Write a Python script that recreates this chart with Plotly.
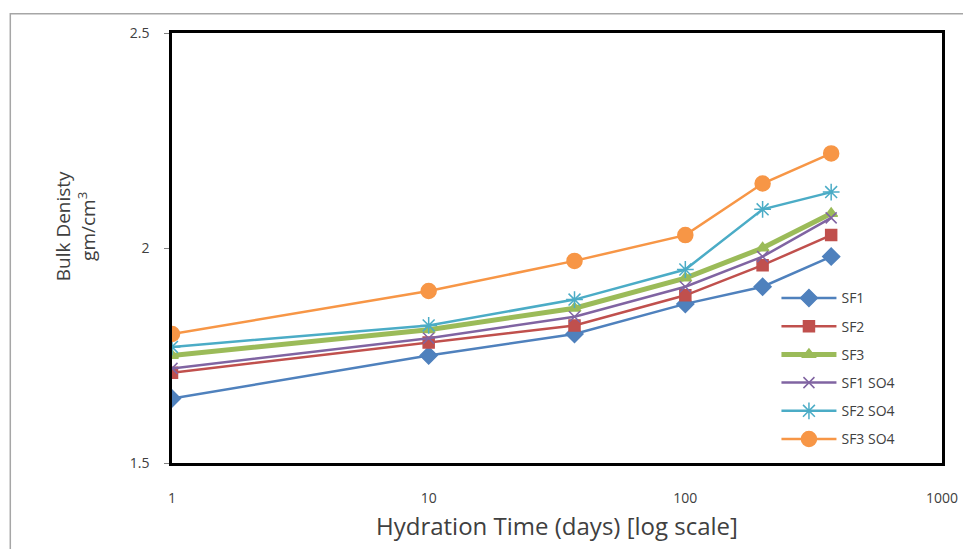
import plotly.graph_objects as go

days = [1, 10, 37, 100, 200, 370]
sf1 = [1.65, 1.75, 1.80, 1.87, 1.91, 1.98]
sf2 = [1.71, 1.78, 1.82, 1.89, 1.96, 2.03]
sf3 = [1.75, 1.81, 1.86, 1.93, 2.00, 2.08]
sf1_so4 = [1.72, 1.79, 1.84, 1.91, 1.98, 2.07]
sf2_so4 = [1.77, 1.82, 1.88, 1.95, 2.09, 2.13]
sf3_so4 = [1.80, 1.90, 1.97, 2.03, 2.15, 2.22]

series = [
    ("SF1", sf1, "#4F81BD", "diamond", 13, 2.5),
    ("SF2", sf2, "#C0504D", "square", 11, 2.5),
    ("SF3", sf3, "#9BBB59", "triangle-up", 11, 5),
    ("SF1 SO4", sf1_so4, "#8064A2", "x-thin-open", 11, 2.5),
    ("SF2 SO4", sf2_so4, "#4BACC6", "asterisk-open", 14, 2.5),
    ("SF3 SO4", sf3_so4, "#F79646", "circle", 15, 2.5),
]

fig = go.Figure()
for name, vals, color, sym, size, lw in series:
    fig.add_trace(go.Scatter(
        x=days, y=vals, name=name, mode="lines+markers", legendgroup=name,
        line=dict(color=color, width=lw),
        marker=dict(symbol=sym, size=size, color=color,
                    line=dict(color=color, width=1.5)),
    ))

font_family = "Open Sans, Lato, sans-serif"

fig.update_layout(
    width=963, height=541,
    margin=dict(l=164, r=29, t=25, b=86),
    paper_bgcolor="white", plot_bgcolor="white",
    font=dict(family=font_family, color="#404040"),
    showlegend=True,
    legend=dict(x=0.785, y=0.42, xanchor="left", yanchor="top",
                font=dict(size=14, color="#404040"),
                bgcolor="rgba(0,0,0,0)", tracegroupgap=7,
                itemwidth=55),
    xaxis=dict(type="log", range=[0, 3],
               tickvals=[1, 10, 100, 1000], ticktext=["1", "10", "100", "1000"],
               showgrid=False, zeroline=False,
               showline=True, linecolor="black", linewidth=2.5, mirror=True,
               ticks="", tickfont=dict(size=14, color="#404040"),
               ticklabelstandoff=20),
    yaxis=dict(range=[1.5, 2.5], tickvals=[1.5, 2, 2.5],
               ticktext=["1.5", "2", "2.5"],
               showgrid=False, zeroline=False,
               showline=True, linecolor="black", linewidth=2.5, mirror=True,
               ticks="outside", ticklen=5, tickcolor="#808080",
               tickfont=dict(size=14, color="#404040"),
               ticklabelstandoff=12),
    annotations=[
        dict(text="Hydration Time (days) [log scale]", xref="paper", yref="paper",
             x=0.5, y=-0.145, xanchor="center", yanchor="middle",
             showarrow=False, font=dict(size=24, color="#404040")),
        dict(text="Bulk Denisty<br>gm/cm<sup>3</sup>", xref="paper", yref="paper",
             x=-0.125, y=0.55, xanchor="center", yanchor="middle", textangle=-90,
             showarrow=False, font=dict(size=19, color="#404040")),
    ],
    shapes=[
        dict(type="rect", xref="paper", yref="paper",
             x0=-0.21, y0=-0.4, x1=1.2, y1=1.045,
             line=dict(color="#A6A6A6", width=1.5), fillcolor="rgba(0,0,0,0)",
             layer="below"),
    ],
)

fig.write_html("out.html")
